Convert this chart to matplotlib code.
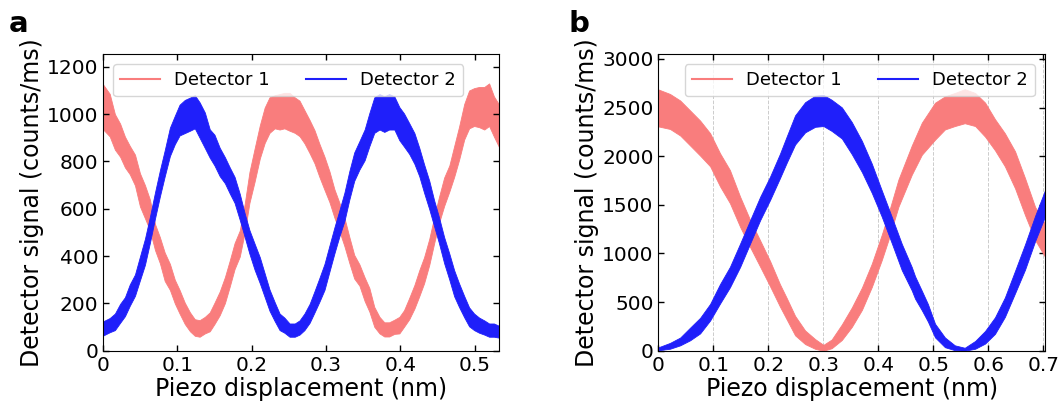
import matplotlib
matplotlib.use("Agg")
import matplotlib.pyplot as plt
import numpy as np
from matplotlib.ticker import FuncFormatter
from matplotlib.lines import Line2D

# traces are read off the picture as a centre value and the half height
# of the noise band at each point

# ---- panel a ----
a_red_x = [0.000, 0.009, 0.016, 0.023, 0.0295, 0.036, 0.043, 0.0497, 0.0564, 0.063,
           0.070, 0.0765, 0.083, 0.090, 0.0966, 0.103, 0.110, 0.117, 0.1235, 0.130,
           0.137, 0.1436, 0.150, 0.157, 0.164, 0.1705, 0.177, 0.184, 0.1906, 0.197,
           0.204, 0.211, 0.2175, 0.224, 0.231, 0.2376, 0.244, 0.251, 0.258, 0.2644,
           0.271, 0.278, 0.2846, 0.291, 0.298, 0.3047, 0.3114, 0.318, 0.3248, 0.3315,
           0.338, 0.345, 0.352, 0.3584, 0.365, 0.372, 0.3785, 0.385, 0.392, 0.3987,
           0.405, 0.412, 0.419, 0.4255, 0.432, 0.439, 0.4456, 0.452, 0.459, 0.466,
           0.4725, 0.479, 0.486, 0.4926, 0.4993, 0.506, 0.513, 0.5195, 0.526, 0.533]
a_red = [1031, 996, 925, 890, 840, 806, 764, 680, 630, 575,
         480, 425, 355, 312, 250, 207, 158, 122, 98, 94,
         108, 122, 158, 200, 256, 326, 400, 453, 560, 690,
         785, 883, 953, 996, 1010, 1010, 1015, 1010, 996, 982,
         947, 905, 862, 806, 750, 693, 622, 566, 502, 425,
         355, 320, 260, 215, 143, 108, 90, 90, 101, 108,
         136, 178, 228, 285, 340, 418, 510, 594, 672, 728,
         800, 876, 968, 1020, 1030, 1030, 1025, 1040, 990, 950]
a_red_noise = [95, 90, 75, 70, 65, 60, 65, 70, 70, 65,
               55, 55, 60, 55, 50, 50, 45, 40, 35, 35,
               35, 40, 45, 50, 55, 55, 55, 55, 60, 65,
               70, 70, 75, 75, 70, 75, 75, 80, 75, 75,
               70, 70, 70, 70, 70, 65, 60, 60, 60, 55,
               50, 45, 50, 50, 42, 35, 30, 30, 30, 35,
               35, 45, 50, 55, 55, 55, 55, 55, 60, 55,
               65, 70, 75, 80, 80, 85, 90, 90, 85, 90]

a_blue_x = [0.000, 0.009, 0.016, 0.023, 0.0295, 0.036, 0.043, 0.0497, 0.0564, 0.063,
            0.070, 0.0765, 0.083, 0.090, 0.0966, 0.103, 0.110, 0.117, 0.1235, 0.130,
            0.137, 0.1436, 0.150, 0.157, 0.164, 0.1705, 0.177, 0.184, 0.1906, 0.197,
            0.204, 0.211, 0.2175, 0.224, 0.231, 0.2376, 0.244, 0.251, 0.258, 0.2644,
            0.271, 0.278, 0.2846, 0.291, 0.298, 0.3047, 0.3114, 0.318, 0.3248, 0.3315,
            0.338, 0.345, 0.352, 0.3584, 0.365, 0.372, 0.3785, 0.385, 0.392, 0.3987,
            0.405, 0.412, 0.419, 0.4255, 0.432, 0.439, 0.4456, 0.452, 0.459, 0.466,
            0.4725, 0.479, 0.486, 0.4926, 0.4993, 0.506, 0.513, 0.5195, 0.526, 0.533]
a_blue = [94, 108, 122, 158, 186, 235, 277, 348, 418, 510,
          615, 707, 792, 883, 933, 975, 990, 1000, 1010, 975,
          932, 876, 848, 798, 763, 720, 680, 608, 531, 460,
          397, 340, 277, 214, 165, 122, 108, 87, 87, 98,
          122, 158, 207, 256, 312, 390, 467, 538, 608, 700,
          778, 826, 870, 935, 996, 1010, 1000, 1010, 1005, 960,
          933, 897, 855, 798, 728, 658, 580, 510, 425, 355,
          285, 235, 186, 143, 122, 108, 98, 87, 87, 80]
a_blue_noise = [30, 30, 35, 40, 40, 45, 45, 50, 55, 55,
                55, 55, 55, 60, 60, 65, 70, 70, 70, 75,
                75, 60, 65, 60, 55, 55, 55, 55, 50, 50,
                55, 55, 50, 45, 40, 35, 32, 28, 28, 30,
                35, 40, 45, 50, 55, 55, 55, 55, 60, 60,
                60, 60, 65, 70, 75, 75, 75, 75, 70, 70,
                70, 65, 65, 60, 60, 60, 55, 55, 55, 55,
                55, 50, 45, 40, 35, 32, 30, 28, 28, 25]

# ---- panel b ----
b_red_x = [0.000, 0.021, 0.0395, 0.0576, 0.0758, 0.094, 0.112, 0.130, 0.1485, 0.1667,
           0.185, 0.203, 0.221, 0.2334, 0.2485, 0.2667, 0.285, 0.300, 0.315, 0.3335,
           0.3516, 0.370, 0.388, 0.406, 0.418, 0.4364, 0.4607, 0.479, 0.503, 0.521,
           0.539, 0.557, 0.576, 0.594, 0.612, 0.630, 0.6485, 0.6667, 0.685, 0.703]
b_red = [2496, 2460, 2393, 2290, 2186, 2066, 1860, 1687, 1429, 1205,
         998, 792, 568, 430, 258, 138, 69, 30, 70, 190,
         344, 534, 775, 1060, 1270, 1620, 1960, 2180, 2360, 2445,
         2480, 2514, 2480, 2376, 2221, 2066, 1860, 1584, 1308, 1136]
b_red_noise = [190, 180, 180, 180, 180, 170, 170, 170, 155, 140,
               135, 130, 115, 110, 100, 70, 50, 30, 45, 80,
               100, 115, 120, 130, 135, 140, 150, 165, 190, 170,
               170, 175, 170, 175, 160, 170, 190, 190, 170, 170]

b_blue_x = [0.000, 0.021, 0.0395, 0.0576, 0.0758, 0.094, 0.112, 0.130, 0.1485, 0.1667,
            0.185, 0.203, 0.221, 0.2334, 0.2485, 0.2667, 0.285, 0.300, 0.315, 0.3335,
            0.3516, 0.370, 0.388, 0.406, 0.4244, 0.4425, 0.4607, 0.4667, 0.479, 0.490,
            0.503, 0.521, 0.539, 0.557, 0.576, 0.594, 0.612, 0.630, 0.6485, 0.6667,
            0.685, 0.703]
b_blue = [20, 50, 95, 172, 258, 396, 585, 757, 981, 1222,
          1463, 1670, 1900, 2070, 2270, 2400, 2462, 2470, 2420, 2342,
          2186, 1997, 1773, 1515, 1240, 964, 740, 650, 516, 390,
          207, 86, 30, 15, 60, 138, 258, 447, 706, 964,
          1257, 1515]
b_blue_noise = [15, 30, 40, 65, 80, 85, 100, 105, 120, 120,
                120, 120, 125, 135, 150, 155, 160, 160, 160, 160,
                165, 160, 150, 135, 135, 135, 120, 115, 100, 90,
                70, 50, 25, 15, 40, 65, 85, 100, 115, 130,
                130, 135]

labels = ["Detector 1", "Detector 2"]
RED = "#f97d7d"
BLUE = "#1f1ffa"


def band(ax, x, c, noise, color):
    c = np.array(c, dtype=float)
    noise = np.array(noise, dtype=float)
    ax.fill_between(x, np.clip(c - noise, 0, None), c + noise,
                    color=color, lw=0.6, edgecolor=color)


def style(ax, xlim, ylim, xticks, yticks):
    ax.set_xlim(*xlim)
    ax.set_ylim(*ylim)
    ax.set_xticks(xticks)
    ax.set_yticks(yticks)
    ax.tick_params(direction="in", top=True, right=True, labelsize=14.5,
                   length=4, width=1)
    ax.xaxis.set_major_formatter(FuncFormatter(lambda v, p: "%g" % round(v, 2)))
    ax.set_xlabel("Piezo displacement (nm)", fontsize=17, labelpad=2)
    ax.set_ylabel("Detector signal (counts/ms)", fontsize=17, labelpad=2)
    handles = [Line2D([], [], color=RED, lw=1.5), Line2D([], [], color=BLUE, lw=1.5)]
    return handles


fig = plt.figure(figsize=(10.62, 4.16), dpi=100)
axA = fig.add_axes([0.097, 0.157, 0.373, 0.713])
axB = fig.add_axes([0.620, 0.157, 0.364, 0.713])

band(axA, a_red_x, a_red, a_red_noise, RED)
band(axA, a_blue_x, a_blue, a_blue_noise, BLUE)
h = style(axA, (0, 0.533), (0, 1254), np.arange(0, 0.51, 0.1), range(0, 1201, 200))
axA.legend(h, labels, loc="upper left", ncol=2, fontsize=13,
           handlelength=2.2, columnspacing=2.0, borderaxespad=0.55)

axB.grid(axis="x", ls="--", color="#cccccc", lw=0.7)
axB.set_axisbelow(True)
band(axB, b_red_x, b_red, b_red_noise, RED)
band(axB, b_blue_x, b_blue, b_blue_noise, BLUE)
h = style(axB, (0, 0.703), (0, 3050), np.arange(0, 0.71, 0.1), range(0, 3001, 500))
axB.legend(h, labels, loc="upper right", ncol=2, fontsize=13,
           handlelength=2.2, columnspacing=2.0, borderaxespad=0.55)

fig.text(0.008, 0.975, "a", fontsize=21, fontweight="bold", va="top")
fig.text(0.535, 0.975, "b", fontsize=21, fontweight="bold", va="top")

fig.savefig("out.png", dpi=100)
